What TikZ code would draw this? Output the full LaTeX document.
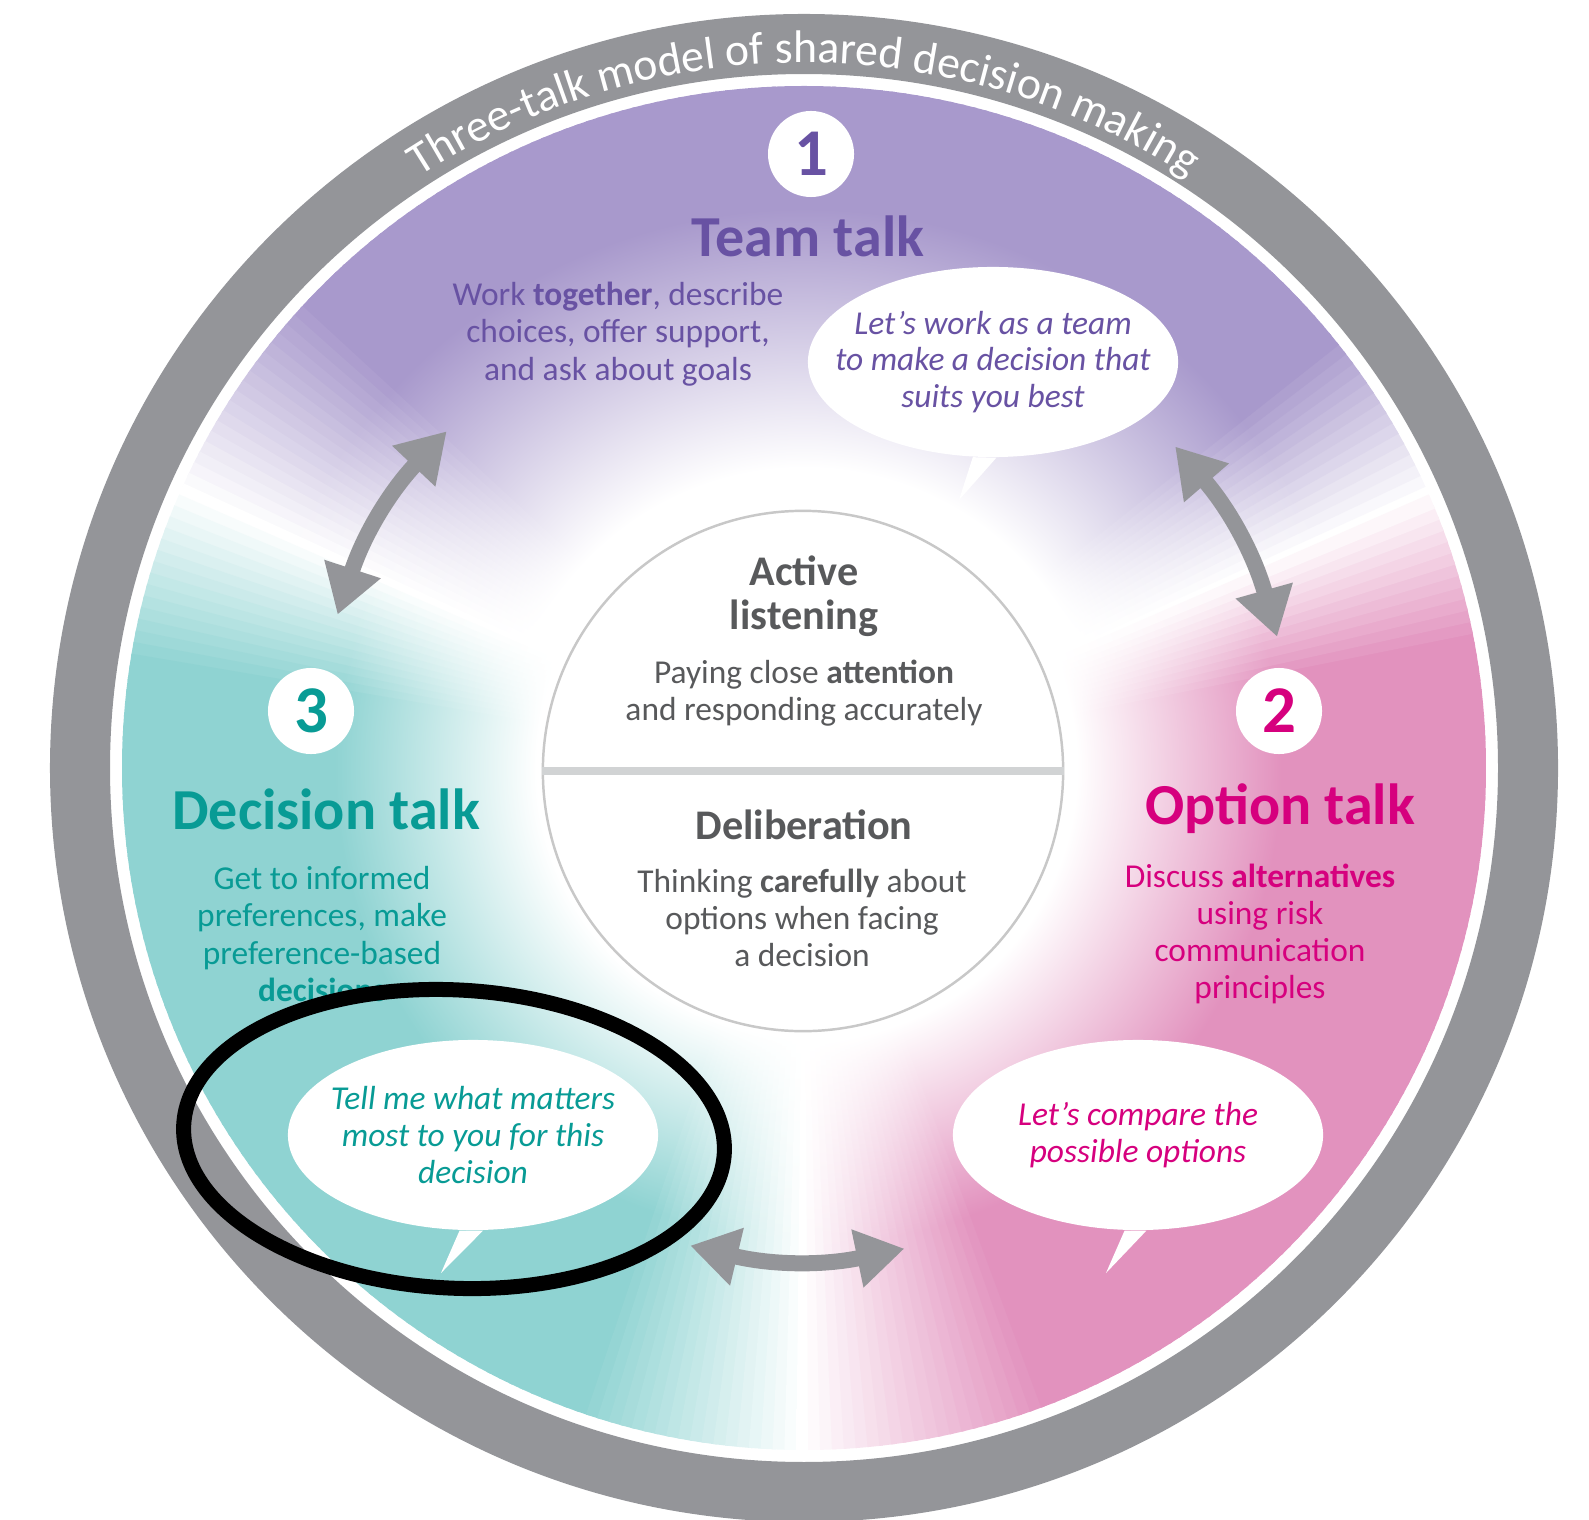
\documentclass[tikz,border=0pt]{standalone}
\usepackage{fontspec}
\setmainfont{Carlito}
\usetikzlibrary{arrows.meta,shapes.geometric,decorations.text}

\definecolor{ringgrey}{RGB}{148,149,153}
\definecolor{purplebg}{RGB}{168,153,204}
\definecolor{tealbg}{RGB}{143,211,210}
\definecolor{pinkbg}{RGB}{226,146,190}
\definecolor{purpletxt}{RGB}{104,82,163}
\definecolor{tealtxt}{RGB}{8,155,149}
\definecolor{magtxt}{RGB}{214,0,126}
\definecolor{hubtxt}{RGB}{88,89,91}
\definecolor{hubline}{RGB}{200,200,200}
\definecolor{hubbar}{RGB}{209,211,212}
\colorlet{rimcol}{white}

\pgfdeclareradialshading[rimcol]{purplefade}{\pgfpoint{0bp}{0bp}}{color(0bp)=(white);color(11bp)=(white);color(20.5bp)=(rimcol);color(50bp)=(rimcol)}
\pgfdeclareradialshading[rimcol]{tealfade}{\pgfpoint{0bp}{0bp}}{color(0bp)=(white);color(9.8bp)=(white);color(17.2bp)=(rimcol);color(50bp)=(rimcol)}
\pgfdeclareradialshading[rimcol]{pinkfade}{\pgfpoint{0bp}{0bp}}{color(0bp)=(white);color(10bp)=(white);color(17.5bp)=(rimcol);color(50bp)=(rimcol)}

\begin{document}
\begin{tikzpicture}[
    x=0.01cm, y=0.01cm,
    numdisc/.style={circle, fill=white, minimum size=0.86cm, inner sep=0pt, font=\fontsize{19}{19}\selectfont\bfseries},
    talk/.style={font=\fontsize{16.5}{18}\selectfont\bfseries},
    desc/.style={align=center, font=\fontsize{9.5}{10.6}\selectfont},
    bubble/.style={ellipse, fill=white, minimum width=3.7cm, minimum height=1.9cm, inner sep=0pt},
    bubtext/.style={align=center, font=\fontsize{9.5}{10.4}\selectfont\itshape},
    bubtail/.style={fill=white},
    hub/.style={circle, draw=hubline, line width=0.7pt, fill=white, minimum size=5.2cm, inner sep=0pt},
    hubhead/.style={align=center, text=hubtxt, font=\fontsize{12}{12.6}\selectfont\bfseries},
    hubtext/.style={align=center, text=hubtxt, font=\fontsize{9.5}{10.5}\selectfont},
    twoway/.style={draw=ringgrey, line width=0.16cm, {Triangle[length=0.48cm,width=0.56cm]}-{Triangle[length=0.48cm,width=0.56cm]}},
    hilite/.style={ellipse, draw=black, line width=0.15cm, minimum width=5.41cm, minimum height=2.98cm, inner sep=0pt}
]
\useasboundingbox (0,0) rectangle (1589,-1519);
\coordinate (ctr) at (804,-768);

\draw[ringgrey, line width=0.6cm] (ctr) circle[radius=724];

\foreach \a in {24,25,...,156} {
  \pgfmathsetmacro\f{100*max(0,min(1,(\a-24)/15,(156-\a)/19))}
  \pgfmathsetmacro\aa{\a-0.65}
  \pgfmathsetmacro\ab{\a+0.65}
  \colorlet{rimcol}{purplebg!\f!white}
  \begin{scope}
    \clip (ctr) -- ([shift={(ctr)}]\aa:700) arc[start angle=\aa, end angle=\ab, radius=700] -- cycle;
    \shade[shading=purplefade] (ctr) circle[radius=682];
  \end{scope}
}
\foreach \a in {157,158,...,270} {
  \pgfmathsetmacro\f{100*max(0,min(1,(\a-156)/15,(270-\a)/19))}
  \pgfmathsetmacro\aa{\a-0.65}
  \pgfmathsetmacro\ab{\a+0.65}
  \colorlet{rimcol}{tealbg!\f!white}
  \begin{scope}
    \clip (ctr) -- ([shift={(ctr)}]\aa:700) arc[start angle=\aa, end angle=\ab, radius=700] -- cycle;
    \shade[shading=tealfade] (ctr) circle[radius=682];
  \end{scope}
}
\foreach \a in {-89,-88,...,23} {
  \pgfmathsetmacro\f{100*max(0,min(1,(\a+90)/21,(24-\a)/13))}
  \pgfmathsetmacro\aa{\a-0.65}
  \pgfmathsetmacro\ab{\a+0.65}
  \colorlet{rimcol}{pinkbg!\f!white}
  \begin{scope}
    \clip (ctr) -- ([shift={(ctr)}]\aa:700) arc[start angle=\aa, end angle=\ab, radius=700] -- cycle;
    \shade[shading=pinkfade] (ctr) circle[radius=682];
  \end{scope}
}

\coordinate (tl1) at ([shift={(ctr)}]136.7:491);
\coordinate (tl2) at ([shift={(ctr)}]161.8:491);
\coordinate (tr1) at ([shift={(ctr)}]15.5:491);
\coordinate (tr2) at ([shift={(ctr)}]40.9:491);
\coordinate (bt1) at ([shift={(ctr)}]256.6:491);
\coordinate (bt2) at ([shift={(ctr)}]281.8:491);
\draw[twoway] (tl1) to[bend right=12.6] (tl2);
\draw[twoway] (tr1) to[bend right=12.6] (tr2);
\draw[twoway] (bt1) to[bend right=12.6] (bt2);

\node[hub] (hub) at (803,-771) {};
\draw[hubbar, line width=2pt] (hub.west) -- (hub.east);
\node[hubhead] (active) at (804,-596) {Active\\listening};
\node[hubtext] (activedesc) at (804,-693) {Paying close \textbf{attention}\\and responding accurately};
\node[hubhead] (delib) at (804,-825) {Deliberation};
\node[hubtext] (delibdesc) at (802,-918) {Thinking \textbf{carefully} about\\options when facing\\a decision};

\node[numdisc, text=purpletxt] (num1) at (811,-154) {1};
\node[talk, text=purpletxt] (team) at (808,-236) {Team talk};
\node[desc, text=purpletxt] (teamdesc) at (618,-334) {Work \textbf{together}, describe\\choices, offer support,\\and ask about goals};
\node[bubble] (teambub) at (993,-362) {};
\coordinate (teamtip) at (959,-500);
\fill[bubtail] (teambub.258) -- (teamtip) -- (teambub.272) -- cycle;
\node[bubtext, text=purpletxt] (teamsay) at (teambub) {Let’s work as a team\\to make a decision that\\suits you best};

\node[numdisc, text=magtxt] (num2) at (1279,-711) {2};
\node[talk, text=magtxt] (option) at (1280,-809) {Option talk};
\node[desc, text=magtxt] (optiondesc) at (1260,-934) {Discuss \textbf{alternatives}\\using risk\\communication\\principles};
\node[bubble] (optionbub) at (1138,-1135) {};
\coordinate (optiontip) at (1106,-1273);
\fill[bubtail] (optionbub.262) -- (optiontip) -- (optionbub.275) -- cycle;
\node[bubtext, text=magtxt] (optionsay) at (optionbub) {Let’s compare the\\possible options};

\node[numdisc, text=tealtxt] (num3) at (311,-711) {3};
\node[talk, text=tealtxt] (decision) at (326,-809) {Decision talk};
\node[desc, text=tealtxt] (decisiondesc) at (322,-934) {Get to informed\\preferences, make\\preference-based\\\textbf{decisions}};
\node[bubble] (decisionbub) at (473,-1135) {};
\coordinate (decisiontip) at (441,-1273);
\fill[bubtail] (decisionbub.262) -- (decisiontip) -- (decisionbub.276) -- cycle;
\node[bubtext, text=tealtxt] (decisionsay) at (decisionbub) {Tell me what matters\\most to you for this\\decision};

\node[hilite, rotate=-3] (circled) at (454,-1139) {};

\path[decorate, decoration={text along path, text={|\fontsize{13}{15}\selectfont|Three-talk model of shared decision making}, text align=center, text color=white}]
    ([shift={(ctr)}]160:705) arc[start angle=160, end angle=20, radius=705];

\end{tikzpicture}
\end{document}
